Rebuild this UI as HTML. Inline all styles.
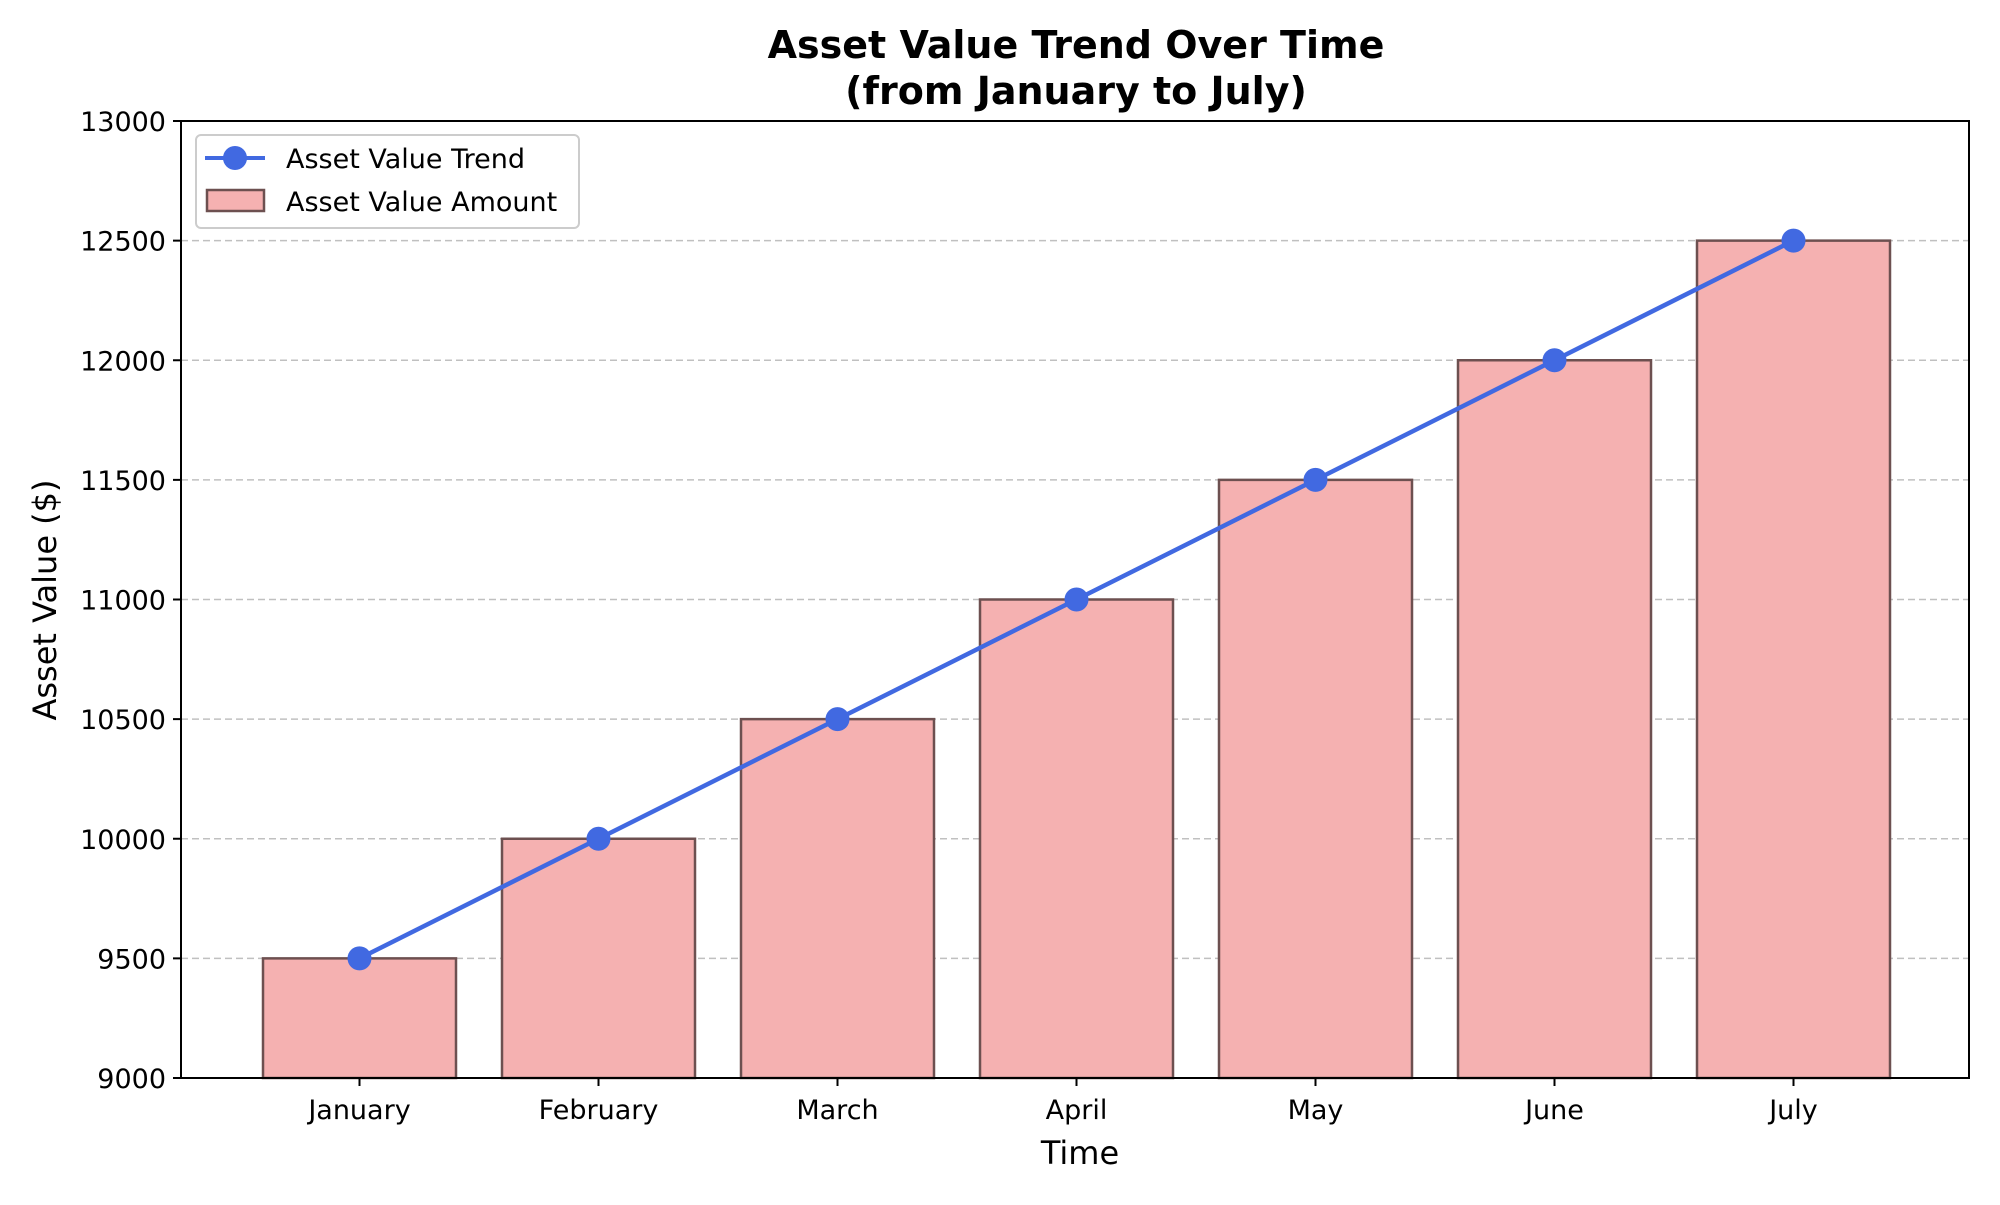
<!DOCTYPE html>
<html><head><meta charset="utf-8"><style>
body{margin:0;background:#fff;}
svg text{font-family:"DejaVu Sans","Liberation Sans",sans-serif;fill:#000;}
</style></head><body>
<svg width="2000" height="1200" viewBox="0 0 2000 1200" xmlns="http://www.w3.org/2000/svg">
<rect x="0" y="0" width="2000" height="1200" fill="#fff"/>
<g id="grid"></g>
<g id="bars"></g>
<g id="line"></g>
<g id="axes"></g>
<text x="1076" y="58" text-anchor="middle" font-size="38" font-weight="bold">Asset Value Trend Over Time</text>
<text x="1076" y="104" text-anchor="middle" font-size="38" font-weight="bold">(from January to July)</text>
<text x="1080" y="1164" text-anchor="middle" font-size="32">Time</text>
<text transform="translate(56,600) rotate(-90)" text-anchor="middle" font-size="32">Asset Value ($)</text>
<g>
<rect x="196" y="135" width="383" height="93" rx="5" fill="#fff" fill-opacity="0.8" stroke="#ccc" stroke-width="2"/>
<line x1="205" y1="158" x2="265" y2="158" stroke="#4169e1" stroke-width="4"/>
<circle cx="235" cy="158" r="12" fill="#4169e1"/>
<text x="286" y="168" font-size="27">Asset Value Trend</text>
<rect x="207" y="190" width="57" height="21" fill="#f5b1b1" stroke="#6d5050" stroke-width="2.5"/>
<text x="286" y="211" font-size="27">Asset Value Amount</text>
</g>
</svg>
<script>
const categories=["January","February","March","April","May","June","July"];
const values=[9500,10000,10500,11000,11500,12000,12500];
const yTicks=[9000,9500,10000,10500,11000,11500,12000,12500,13000];
const L=181,R=1969,T=121,B=1078,yMin=9000,yMax=13000;
const NS="http://www.w3.org/2000/svg";
const step=239,x0=359.5,bw=193;
function xS(i){return x0+i*step;}
function yS(v){return B-(v-yMin)/(yMax-yMin)*(B-T);}
function mk(tag,attrs,parent){const e=document.createElementNS(NS,tag);for(const k in attrs)e.setAttribute(k,attrs[k]);document.getElementById(parent).appendChild(e);return e;}
yTicks.forEach(v=>{
  if(v>yMin&&v<yMax){const g=mk('line',{x1:L,x2:R,y1:yS(v),y2:yS(v),stroke:'#c0c0c0','stroke-width':1.5,'stroke-dasharray':'7,4'},'grid');
  
  }
  const t=mk('line',{x1:L-8,x2:L,y1:yS(v),y2:yS(v),stroke:'#000','stroke-width':2},'axes');
  
  
  const tx=mk('text',{x:L-15,y:yS(v)+10,'text-anchor':'end','font-size':27},'axes');tx.textContent=v;
  
  
});
categories.forEach((c,i)=>{
  const b=mk('rect',{x:xS(i)-bw/2,y:yS(values[i]),width:bw,height:B-yS(values[i]),fill:'#f5b1b1',stroke:'#6d5050','stroke-width':2.5},'bars');
  
  
  const t=mk('line',{x1:xS(i),x2:xS(i),y1:B,y2:B+8,stroke:'#000','stroke-width':2},'axes');
  
  
  const tx=mk('text',{x:xS(i),y:B+41,'text-anchor':'middle','font-size':27},'axes');tx.textContent=c;
  
  
});
const pts=values.map((v,i)=>xS(i)+','+yS(v)).join(' ');
const pl=mk('polyline',{points:pts,fill:'none',stroke:'#4169e1','stroke-width':4.5},'line');


values.forEach((v,i)=>{const c=mk('circle',{cx:xS(i),cy:yS(v),r:12,fill:'#4169e1'},'line');
  
  });
const fr=mk('rect',{x:L,y:T,width:R-L,height:B-T,fill:'none',stroke:'#000','stroke-width':2},'axes');


</script>
</body></html>
